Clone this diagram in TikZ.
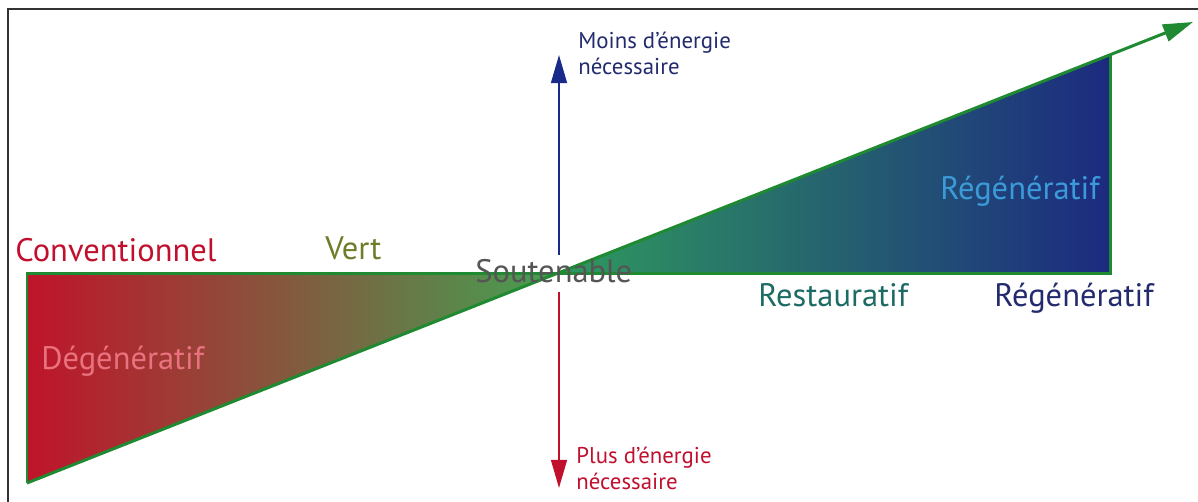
\documentclass[tikz,border=0pt]{standalone}
\usepackage{fontspec}
\setmainfont{PT Sans}
\usetikzlibrary{arrows.meta}

\definecolor{framegray}{HTML}{333333}
\definecolor{linegreen}{HTML}{1F8A32}
\definecolor{crimson}{HTML}{C0102E}
\definecolor{olive}{HTML}{6F7D2A}
\definecolor{stonegray}{HTML}{555555}
\definecolor{rosepink}{HTML}{E8727E}
\definecolor{tealtext}{HTML}{1D6B64}
\definecolor{navytext}{HTML}{232B6E}
\definecolor{skyblue}{HTML}{3B9BD8}
\definecolor{arrowblue}{HTML}{1A2A8A}
\definecolor{shadered}{HTML}{C0142A}
\definecolor{shadebrown}{HTML}{B8763C}
\definecolor{shadegreen}{HTML}{45A052}
\definecolor{shadegreenb}{HTML}{2E9A5E}
\definecolor{shadeteal}{HTML}{17707E}
\definecolor{shadenavy}{HTML}{1C2A80}

\tikzset{
  big/.style={font=\fontsize{18.5}{20}\selectfont, inner sep=0pt, anchor=base west},
  small/.style={font=\fontsize{13}{15.3}\selectfont, inner sep=0pt, anchor=base west, align=left},
  outline/.style={draw=linegreen, line width=1.7pt, line join=miter},
}

\begin{document}
\begin{tikzpicture}[x=0.02cm, y=-0.02cm]
  \useasboundingbox (0,0) rectangle (1198,502);

  % frame (open at the bottom and right)
  \draw[framegray, line width=1.2pt] (8,520) -- (8,9) -- (1210,9);

  % key points
  \coordinate (tl) at (27,274);
  \coordinate (bl) at (27,483);
  \coordinate (mid) at (556,274);
  \coordinate (tr) at (1110,55);
  \coordinate (br) at (1110,274);
  \coordinate (tip) at (1193,22);

  % shaded wedges
  \shade[left color=shadered, middle color=shadebrown, right color=shadegreen]
    (tl) -- (bl) -- (mid) -- cycle;
  \shade[left color=shadegreenb, middle color=shadeteal, right color=shadenavy]
    (mid) -- (tr) -- (br) -- cycle;

  % green outline and main arrow
  \draw[outline] (mid) -- (tl) -- (bl);
  \draw[outline] (mid) -- (br) -- (tr);
  \draw[outline, -{Triangle[length=17pt, width=10pt]}] (bl) -- (tip);

  % vertical energy arrows
  \coordinate (upstart) at (559,255);
  \coordinate (uptip) at (559,55);
  \coordinate (downstart) at (559,292);
  \coordinate (downtip) at (559,488);
  \draw[arrowblue, line width=1.2pt, -{Triangle[length=16pt, width=9pt]}] (upstart) -- (uptip);
  \draw[crimson, line width=1.2pt, -{Triangle[length=16pt, width=9pt]}] (downstart) -- (downtip);

  % labels
  \node[big, text=crimson] (conv) at (15,262) {Conventionnel};
  \node[big, text=olive] (vert) at (325,260) {Vert};
  \node[big, text=stonegray] (sout) at (475,283) {Soutenable};
  \node[big, text=rosepink] (degen) at (41,370) {Dégénératif};
  \node[big, text=tealtext] (resto) at (758,307) {Restauratif};
  \node[big, text=navytext] (regen) at (994,307) {Régénératif};
  \node[big, text=skyblue] (regenin) at (940,200) {Régénératif};

  % two-line notes, placed by the baseline of their last line
  \node[small, text=navytext] (moins) at (578,75) {Moins d’énergie\\nécessaire};
  \node[small, text=crimson] (plus) at (576,490) {Plus d’énergie\\nécessaire};
\end{tikzpicture}
\end{document}
